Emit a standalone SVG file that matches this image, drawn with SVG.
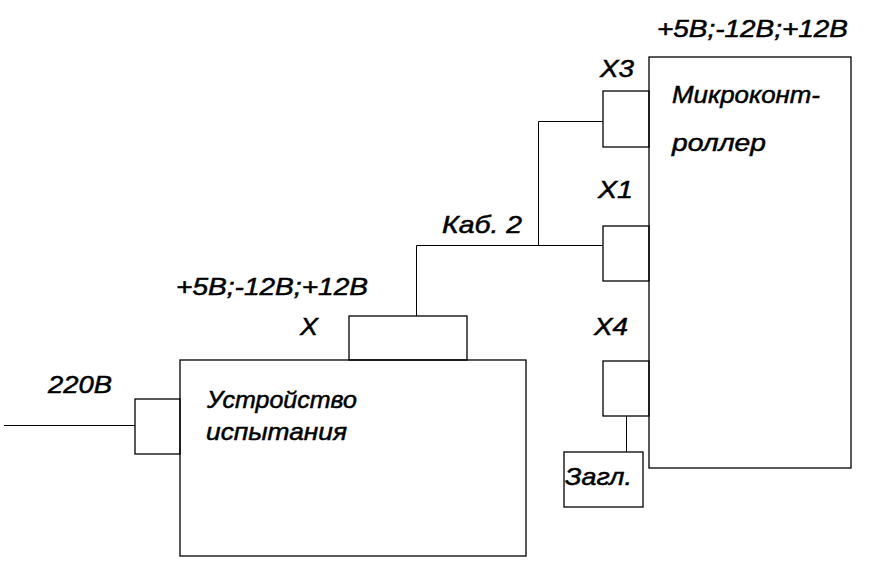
<svg xmlns="http://www.w3.org/2000/svg" width="875" height="577" viewBox="0 0 875 577">
<style>
.b{fill:none;stroke:#000;stroke-width:1.3}
.w{fill:none;stroke:#000;stroke-width:1}
text{font-family:"Liberation Sans",Arial,sans-serif;font-style:italic;font-size:24px;fill:#000;stroke:#000;stroke-width:0.5}
</style>
<rect width="875" height="577" fill="#fff"/>
<g id="connectors">
<path class="w" d="M4 425.5H135"/>
<path class="w" d="M416.5 316V245.5H603"/>
<path class="w" d="M538.5 245.5V121.5H603"/>
<path class="w" d="M626.5 416V452"/>
</g>
<g id="device">
<rect class="b" x="180" y="360" width="346" height="196"/>
<text x="207" y="408" textLength="150" lengthAdjust="spacingAndGlyphs">Устройство</text>
<text x="206" y="440" textLength="141" lengthAdjust="spacingAndGlyphs">испытания</text>
</g>
<g id="conn220">
<rect class="b" x="135" y="399" width="45" height="55"/>
<text x="48" y="393" textLength="64" lengthAdjust="spacingAndGlyphs">220В</text>
</g>
<g id="connX">
<rect class="b" x="349" y="316" width="118" height="44"/>
<text x="300" y="335" textLength="18" lengthAdjust="spacingAndGlyphs">X</text>
<text x="176" y="295" textLength="192" lengthAdjust="spacingAndGlyphs">+5В;-12В;+12В</text>
</g>
<g id="cable">
<text x="442" y="233" textLength="80" lengthAdjust="spacingAndGlyphs">Каб. 2</text>
</g>
<g id="mcu">
<rect class="b" x="649" y="57" width="202" height="411"/>
<text x="672" y="103" textLength="148" lengthAdjust="spacingAndGlyphs">Микроконт-</text>
<text x="672" y="151" textLength="94" lengthAdjust="spacingAndGlyphs">роллер</text>
<text x="657" y="37" textLength="191" lengthAdjust="spacingAndGlyphs">+5В;-12В;+12В</text>
</g>
<g id="X3">
<rect class="b" x="603" y="91" width="46" height="56"/>
<text x="600" y="77" textLength="34" lengthAdjust="spacingAndGlyphs">X3</text>
</g>
<g id="X1">
<rect class="b" x="603" y="226" width="46" height="55"/>
<text x="598" y="198" textLength="35" lengthAdjust="spacingAndGlyphs">X1</text>
</g>
<g id="X4">
<rect class="b" x="603" y="361" width="46" height="55"/>
<text x="594" y="335" textLength="34" lengthAdjust="spacingAndGlyphs">X4</text>
</g>
<g id="plug">
<rect class="b" x="564" y="452" width="79" height="55"/>
<text x="565" y="485" textLength="67" lengthAdjust="spacingAndGlyphs">Загл.</text>
</g>
</svg>
